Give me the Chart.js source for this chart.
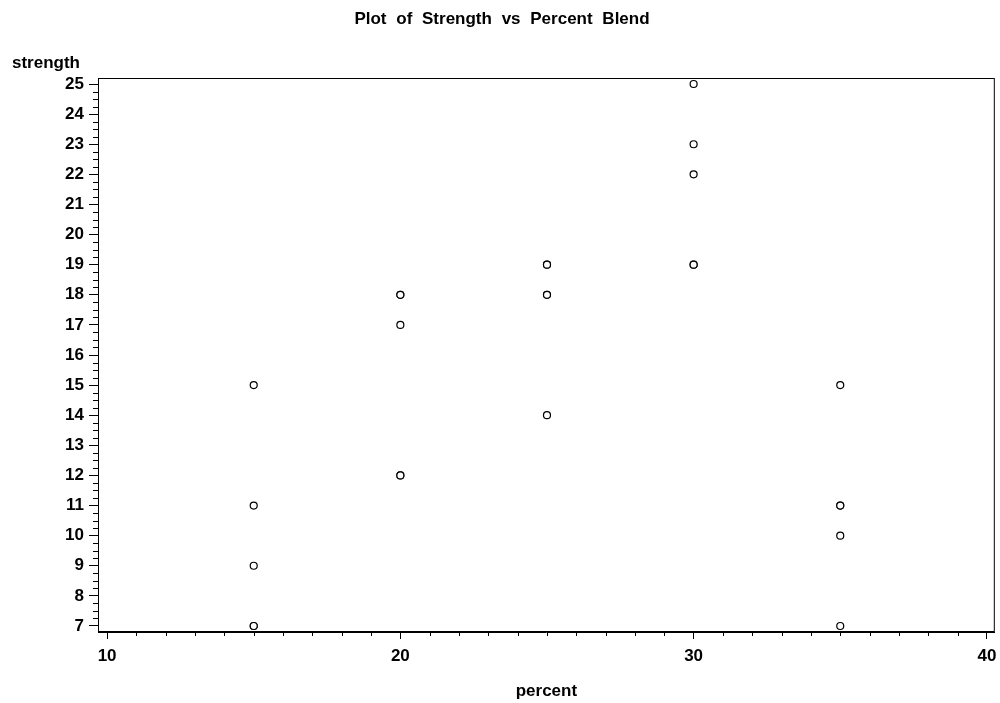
<!DOCTYPE html>
<html>
<head>
<meta charset="utf-8">
<title>Plot of Strength vs Percent Blend</title>
<script src="https://cdn.jsdelivr.net/npm/chart.js@4.4.1/dist/chart.umd.min.js"></script>
<style>
	html, body { margin: 0; padding: 0; background: #fff; }
	#wrap { width: 1000px; height: 703px; }
</style>
</head>
<body>
<div id="wrap"><canvas id="myChart" width="1000" height="703"></canvas></div>
<script>
	// tensile strength by percent of cotton blend (5 runs each)
	var percent  = [15, 15, 15, 15, 15, 20, 20, 20, 20, 20, 25, 25, 25, 25, 25, 30, 30, 30, 30, 30, 35, 35, 35, 35, 35];
	var strength = [7, 7, 15, 11, 9, 12, 17, 12, 18, 18, 14, 18, 18, 19, 19, 19, 25, 22, 19, 23, 7, 10, 11, 15, 11];

	var xTicks = [10, 20, 30, 40];
	var yTicks = [7, 8, 9, 10, 11, 12, 13, 14, 15, 16, 17, 18, 19, 20, 21, 22, 23, 24, 25];

	var FONT = '"Liberation Sans", Arial, sans-serif';

	// frame, minor ticks and the text labels
	var decoPlugin = {
		id: 'deco',
		afterDraw: function (chart) {
			var ctx = chart.ctx;
			var a = chart.chartArea;
			var xs = chart.scales.x, ys = chart.scales.y;
			ctx.save();
			ctx.strokeStyle = '#000';
			ctx.lineWidth = 1;
			ctx.strokeRect(a.left + 0.5, a.top + 0.5, a.right - a.left - 1, a.bottom - a.top - 1);

			ctx.beginPath();
			for (var v = yTicks[0]; v < yTicks[yTicks.length - 1]; v += 0.25) {
				if (v % 1 === 0) continue;
				var py = Math.round(ys.getPixelForValue(v)) + 0.5;
				ctx.moveTo(a.left - 5, py);
				ctx.lineTo(a.left, py);
			}
			for (var u = xTicks[0]; u < xTicks[xTicks.length - 1]; u += 1) {
				if (u % 10 === 0) continue;
				var px = Math.round(xs.getPixelForValue(u)) + 0.5;
				ctx.moveTo(px, a.bottom);
				ctx.lineTo(px, a.bottom + 4);
			}
			ctx.stroke();

			ctx.fillStyle = '#000';
			ctx.textBaseline = 'middle';
			ctx.font = 'bold 17px ' + FONT;
			ctx.textAlign = 'center';
			if ('wordSpacing' in ctx) ctx.wordSpacing = '5px';
			ctx.fillText('Plot of Strength vs Percent Blend', 502, 19);
			if ('wordSpacing' in ctx) ctx.wordSpacing = '0px';

			ctx.textAlign = 'left';
			ctx.fillText('strength', 12, 63);
			ctx.textAlign = 'center';
			ctx.fillText('percent', (a.left + a.right) / 2, 691);
			ctx.restore();
		}
	};

	new Chart(document.getElementById('myChart'), {
		type: 'scatter',
		data: {
			datasets: [{
				data: percent.map(function (p, i) { return { x: p, y: strength[i] }; }),
				pointStyle: 'circle',
				pointRadius: 3.5,
				pointBorderWidth: 1.2,
				pointBorderColor: '#000',
				pointBackgroundColor: '#fff'
			}]
		},
		options: {
			responsive: false,
			animation: false,
			layout: { padding: { top: 78, right: 5, left: 0, bottom: 0 } },
			plugins: { legend: { display: false }, tooltip: { enabled: false }, title: { display: false } },
			scales: {
				x: {
					type: 'linear',
					min: 9.69,
					max: 40.27,
					afterBuildTicks: function (s) { s.ticks = xTicks.map(function (v) { return { value: v }; }); },
					afterFit: function (s) { s.height = 71; s.paddingLeft = 0; s.paddingRight = 0; },
					grid: { drawOnChartArea: false, tickLength: 7, color: '#000' },
					border: { display: true, color: '#000' },
					ticks: { color: '#000', padding: 7, maxRotation: 0, font: { family: FONT, size: 17, weight: 'bold' } }
				},
				y: {
					type: 'linear',
					min: 6.8,
					max: 25.2,
					afterBuildTicks: function (s) { s.ticks = yTicks.map(function (v) { return { value: v }; }); },
					afterFit: function (s) { s.width = 98; s.paddingTop = 0; s.paddingBottom = 0; },
					grid: { drawOnChartArea: false, tickLength: 9, color: '#000' },
					border: { display: true, color: '#000' },
					ticks: { color: '#000', padding: 5, font: { family: FONT, size: 17, weight: 'bold' } }
				}
			}
		},
		plugins: [decoPlugin]
	});
</script>
</body>
</html>
